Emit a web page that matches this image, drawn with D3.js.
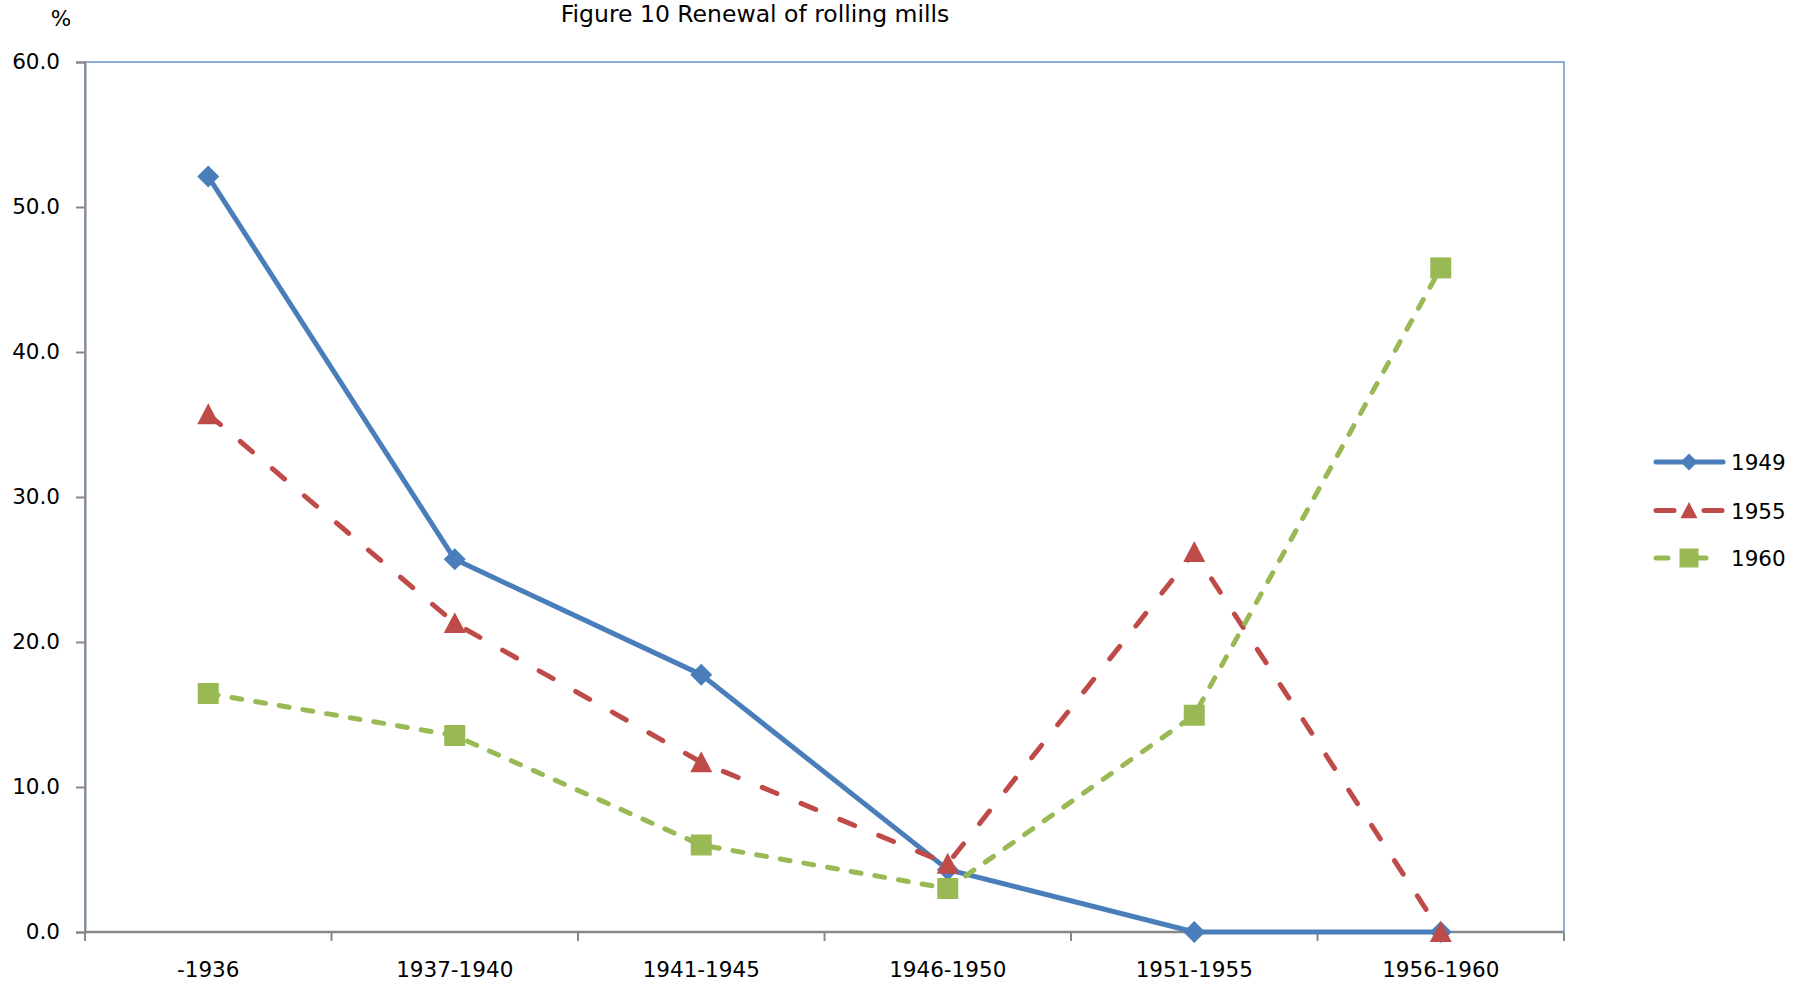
<!DOCTYPE html>
<html>
<head>
<meta charset="utf-8">
<script src="https://cdn.jsdelivr.net/npm/d3@7"></script>
<style>
  html, body { margin: 0; padding: 0; background: #fff; }
  svg { display: block; }
  text { font-family: "DejaVu Sans", Verdana, sans-serif; fill: #000; }
</style>
</head>
<body>
<svg id="chart" width="1798" height="985"></svg>
<script>
// Periods of construction (x categories)
const periods = ["-1936", "1937-1940", "1941-1945", "1946-1950", "1951-1955", "1956-1960"];

// Share of rolling mills by period of construction, %, per survey year
const mills1949 = [52.1, 25.7, 17.75, 4.3, 0.0, 0.0];
const mills1955 = [35.7, 21.3, 11.7, 4.7, 26.2, 0.0];
const mills1960 = [16.45, 13.55, 6.0, 3.0, 14.95, 45.8];

const seriesNames = ["1949", "1955", "1960"];
const yTicks = [0, 10, 20, 30, 40, 50, 60];

const svg = d3.select("#chart");
const margin = { left: 85, right: 234, top: 62, bottom: 53 };
const W = 1798, H = 985;

const x = d3.scaleBand().domain(periods).range([margin.left, W - margin.right]).padding(0);
const y = d3.scaleLinear().domain([0, 60]).range([H - margin.bottom, margin.top]);
const cx = d => x(d) + x.bandwidth() / 2;

const series = [
  { name: seriesNames[0], values: mills1949, color: "#4A7EBB", dash: null, shape: "diamond" },
  { name: seriesNames[1], values: mills1955, color: "#BE4B48", dash: "16,26", shape: "triangle" },
  { name: seriesNames[2], values: mills1960, color: "#98B954", dash: "10,14", shape: "square" }
];

// Marker paths centred on (0,0)
function markerPath(shape, s) {
  const h = s / 2;
  if (shape === "diamond") return `M0,${-h}L${h},0L0,${h}L${-h},0Z`;
  if (shape === "triangle") return `M0,${-h}L${h},${h * 0.9}L${-h},${h * 0.9}Z`;
  return `M${-h},${-h}H${h}V${h}H${-h}Z`;
}

// Plot area frame
const x0 = margin.left, x1 = W - margin.right, y0 = margin.top, y1 = H - margin.bottom;
svg.append("rect")
  .attr("x", x0).attr("y", y0).attr("width", x1 - x0).attr("height", y1 - y0)
  .attr("fill", "none").attr("stroke", "#6A95CC").attr("stroke-width", 1.5);

// Y axis
const yAxis = svg.append("g").attr("transform", `translate(${x0},0)`)
  .call(d3.axisLeft(y).tickValues(yTicks).tickFormat(d3.format(".1f")).tickSize(9).tickPadding(16));
yAxis.select(".domain").attr("stroke", "#888").attr("stroke-width", 2);
yAxis.selectAll(".tick line").attr("stroke", "#888").attr("stroke-width", 2);
yAxis.selectAll(".tick text").attr("font-size", 21.5).attr("font-family", "DejaVu Sans").attr("fill", "#000");

// X axis: line, boundary ticks, centred labels
const xAxis = svg.append("g");
xAxis.append("line").attr("x1", x0).attr("x2", x1).attr("y1", y1).attr("y2", y1)
  .attr("stroke", "#888").attr("stroke-width", 2.5);
const bounds = periods.map(p => x(p)).concat([x.range()[1]]);
xAxis.selectAll("line.tk").data(bounds).enter().append("line").attr("class", "tk")
  .attr("x1", d => d).attr("x2", d => d).attr("y1", y1).attr("y2", y1 + 9)
  .attr("stroke", "#888").attr("stroke-width", 2);
xAxis.selectAll("text").data(periods).enter().append("text")
  .attr("x", d => cx(d)).attr("y", y1 + 45).attr("text-anchor", "middle")
  .attr("font-size", 21.5).text(d => d);

// Title and unit
svg.append("text").attr("x", 755).attr("y", 22).attr("text-anchor", "middle")
  .attr("font-size", 23.5).text("Figure 10 Renewal of rolling mills");
svg.append("text").attr("x", 61).attr("y", 26).attr("text-anchor", "middle")
  .attr("font-size", 21.5).text("%");

// Series lines and markers
const line = d3.line().x((d, i) => cx(periods[i])).y(d => y(d));
series.forEach(s => {
  const g = svg.append("g");
  g.append("path").datum(s.values).attr("d", line)
    .attr("fill", "none").attr("stroke", s.color).attr("stroke-width", 5)
    .attr("stroke-linecap", "round").attr("stroke-linejoin", "round")
    .attr("stroke-dasharray", s.dash);
  const size = s.shape === "diamond" ? 22 : s.shape === "triangle" ? 22 : 21;
  g.selectAll("path.mk").data(s.values).enter().append("path").attr("class", "mk")
    .attr("transform", (d, i) => `translate(${cx(periods[i])},${y(d)})`)
    .attr("d", markerPath(s.shape, size))
    .attr("fill", s.color);
});

// Legend
const lg = svg.append("g");
const legendY = [462, 510.5, 558];
series.forEach((s, i) => {
  const row = lg.append("g").attr("transform", `translate(0,${legendY[i]})`);
  row.append("line").attr("x1", 1656).attr("x2", 1723).attr("y1", 0).attr("y2", 0)
    .attr("stroke", s.color).attr("stroke-width", 5).attr("stroke-linecap", "round")
    .attr("stroke-dasharray", s.dash ? (i === 1 ? "18,30" : "12,26") : null);
  row.append("path").attr("transform", "translate(1689,0)")
    .attr("d", markerPath(s.shape, s.shape === "square" ? 19 : 17)).attr("fill", s.color);
  row.append("text").attr("x", 1731).attr("y", 8).attr("font-size", 21.5).text(s.name);
});
</script>
</body>
</html>
